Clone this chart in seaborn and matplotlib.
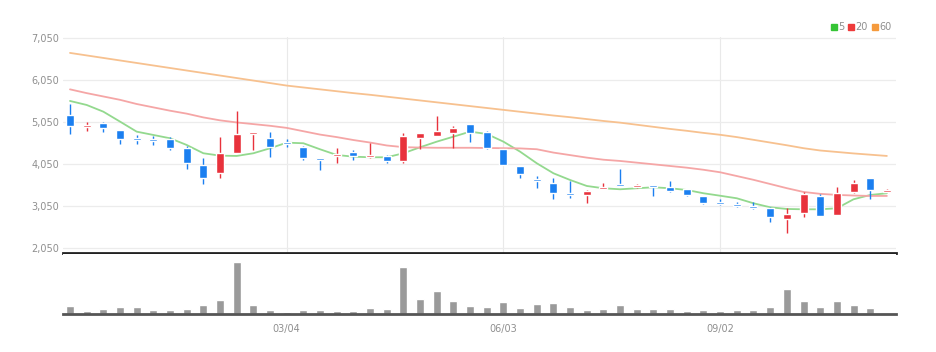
import matplotlib
matplotlib.use("Agg")
import matplotlib.pyplot as plt
from matplotlib.lines import Line2D
import numpy as np
import pandas as pd
import seaborn as sns

# ─── Data (weekly candles) ────────────────────────────────────────────────────
opens  = [5218, 4950, 5027, 4853, 4650, 4625, 4638, 4437, 4024, 3826,
          4318, 4758, 4662, 4555, 4461, 4170, 4255, 4327, 4208, 4247,
          4120, 4676, 4717, 4781, 5003, 4820, 4399, 4000, 3690, 3602,
          3340, 3315, 3444, 3570, 3515, 3545, 3492, 3444, 3284, 3140,
          3085, 3045, 2990, 2735, 2885, 3291, 2830, 3387, 3707, 3390]
highs  = [5481, 5044, 5040, 4870, 4741, 4724, 4700, 4480, 4184, 4686,
          5321, 4820, 4820, 4638, 4470, 4184, 4437, 4383, 4557, 4260,
          4796, 4790, 5195, 4963, 5010, 4830, 4400, 4000, 3762, 3707,
          3649, 3420, 3587, 3922, 3570, 3550, 3649, 3460, 3290, 3205,
          3148, 3148, 3029, 2990, 3388, 3325, 3492, 3666, 3720, 3440]
lows   = [4758, 4843, 4820, 4519, 4519, 4502, 4383, 3929, 3563, 3707,
          4304, 4383, 4223, 4461, 4144, 3905, 4065, 4144, 4200, 4080,
          4065, 4399, 4717, 4423, 4581, 4399, 4020, 3707, 3468, 3205,
          3229, 3110, 3440, 3525, 3468, 3284, 3372, 3290, 3086, 3069,
          3014, 2967, 2670, 2393, 2790, 2810, 2820, 3349, 3205, 3380]
closes = [4963, 4970, 4901, 4638, 4630, 4605, 4423, 4065, 3721, 4318,
          4758, 4812, 4461, 4530, 4199, 4150, 4275, 4247, 4263, 4120,
          4717, 4781, 4843, 4915, 4796, 4437, 4024, 3809, 3650, 3349,
          3310, 3411, 3490, 3525, 3545, 3515, 3411, 3308, 3124, 3110,
          3055, 3015, 2790, 2847, 3325, 2814, 3349, 3587, 3427, 3427]
ma5    = [5553, 5457, 5297, 5060, 4820, 4741, 4662, 4502, 4304, 4247,
          4240, 4304, 4423, 4557, 4543, 4399, 4263, 4223, 4208, 4208,
          4304, 4447, 4581, 4700, 4820, 4765, 4581, 4342, 4065, 3826,
          3666, 3523, 3468, 3444, 3468, 3492, 3468, 3427, 3349, 3290,
          3229, 3110, 3014, 2974, 2966, 2966, 2990, 3205, 3308, 3349]
ma20   = [5830, 5740, 5660, 5580, 5480, 5400, 5320, 5250, 5160, 5090,
          5040, 5000, 4960, 4910, 4830, 4750, 4690, 4620, 4560, 4490,
          4450, 4440, 4435, 4435, 4435, 4430, 4425, 4420, 4400, 4320,
          4260, 4200, 4150, 4120, 4080, 4040, 4000, 3960, 3910, 3850,
          3760, 3670, 3570, 3470, 3380, 3335, 3310, 3295, 3285, 3285]
ma60   = [6700, 6640, 6580, 6520, 6460, 6400, 6340, 6280, 6220, 6160,
          6100, 6040, 5980, 5920, 5875, 5830, 5785, 5740, 5700, 5655,
          5610, 5565, 5520, 5475, 5430, 5385, 5340, 5295, 5250, 5205,
          5165, 5120, 5075, 5035, 4985, 4935, 4885, 4840, 4790, 4745,
          4690, 4625, 4560, 4495, 4425, 4370, 4335, 4300, 4270, 4240]
volume = [83, 33, 53, 70, 70, 40, 40, 53, 87, 143,
          520, 87, 40, 23, 40, 40, 33, 33, 63, 50,
          467, 150, 233, 133, 80, 73, 117, 63, 100, 113,
          73, 40, 50, 87, 53, 53, 50, 33, 40, 33,
          40, 40, 73, 253, 130, 73, 133, 87, 63, 0]

tick_pos    = [13, 26, 39]
tick_labels = ["03/04", "06/03", "09/02"]
price_ticks = [2050, 3050, 4050, 5050, 6050, 7050]
ma_names    = ["5", "20", "60"]

UP, DOWN   = "#e8323c", "#1b7ff0"
MA_COLORS  = {"5": "#93d98e", "20": "#f5a6a6", "60": "#f7c18f"}
LEG_COLORS = ["#35c435", "#ee3a3a", "#f59a3c"]
GREY       = "#8f8f8f"

df = pd.DataFrame({"open": opens, "high": highs, "low": lows,
                   "close": closes, "volume": volume})
df["idx"] = np.arange(len(df))
ma_long = pd.DataFrame({
    "idx":   np.tile(df["idx"].values, 3),
    "ma":    np.repeat(ma_names, len(df)),
    "value": ma5 + ma20 + ma60,
})

# ─── Figure ───────────────────────────────────────────────────────────────────
sns.set_style("white")
plt.rcParams["font.family"] = ["DejaVu Sans"]

fig = plt.figure(figsize=(9.36, 3.52), dpi=100)
ax  = fig.add_axes([0.0673, 0.2813, 0.8900, 0.6136])
axv = fig.add_axes([0.0673, 0.1080, 0.8900, 0.1705])
XLIM = (-0.42, 49.55)

# grid
ax.set_yticks(price_ticks)
ax.set_yticklabels([f"{v:,}" for v in price_ticks])
ax.yaxis.grid(True, color="#ececec", lw=0.9)
for p in tick_pos:
    ax.axvline(p, color="#e9e9e9", lw=0.8, zorder=0)

# moving averages
sns.lineplot(data=ma_long, x="idx", y="value", hue="ma", palette=MA_COLORS,
             hue_order=ma_names, ax=ax, legend=False, lw=1.3, zorder=2)

# candles
for _, r in df.iterrows():
    col = UP if r["close"] >= r["open"] else DOWN
    lo, hi = min(r["open"], r["close"]), max(r["open"], r["close"])
    h = max(hi - lo, 45)
    ax.vlines(r["idx"], r["low"], r["high"], color=col, lw=1.0, zorder=3)
    ax.bar(r["idx"], h, bottom=lo - (h - (hi - lo)) / 2, width=0.48,
           color=col, zorder=4)

ax.set_xlim(*XLIM)
ax.set_ylim(1923, 7080)
ax.set_xticks([])
ax.set_xlabel("")
ax.set_ylabel("")
for s in ["top", "right", "left"]:
    ax.spines[s].set_visible(False)
ax.spines["bottom"].set_color("#222222")
ax.spines["bottom"].set_linewidth(2)
ax.tick_params(axis="y", length=0, labelsize=7, labelcolor=GREY, pad=3)

handles = [Line2D([], [], marker="s", ls="", color=c, markersize=4.5)
           for c in LEG_COLORS]
ax.legend(handles, ma_names, loc="lower right", bbox_to_anchor=(1.0, 1.0),
          ncol=3, frameon=False, fontsize=7, labelcolor=GREY,
          handlelength=0.6, handletextpad=0.15, columnspacing=0.4,
          borderaxespad=0.1)

# volume
sns.barplot(data=df, x="idx", y="volume", color="#9a9a9a", saturation=1,
            width=0.48, ax=axv)
axv.set_xlim(*XLIM)
axv.set_ylim(0, 600)
axv.set_yticks([])
axv.set_xticks(tick_pos)
axv.set_xticklabels(tick_labels)
axv.set_xlabel("")
axv.set_ylabel("")
for s in ["top", "right", "left"]:
    axv.spines[s].set_visible(False)
axv.spines["bottom"].set_color("#555555")
axv.spines["bottom"].set_linewidth(2)
axv.tick_params(axis="x", length=4, width=1, color="#444444",
                labelsize=7, labelcolor=GREY, pad=3)

fig.savefig("out.png", dpi=100)
